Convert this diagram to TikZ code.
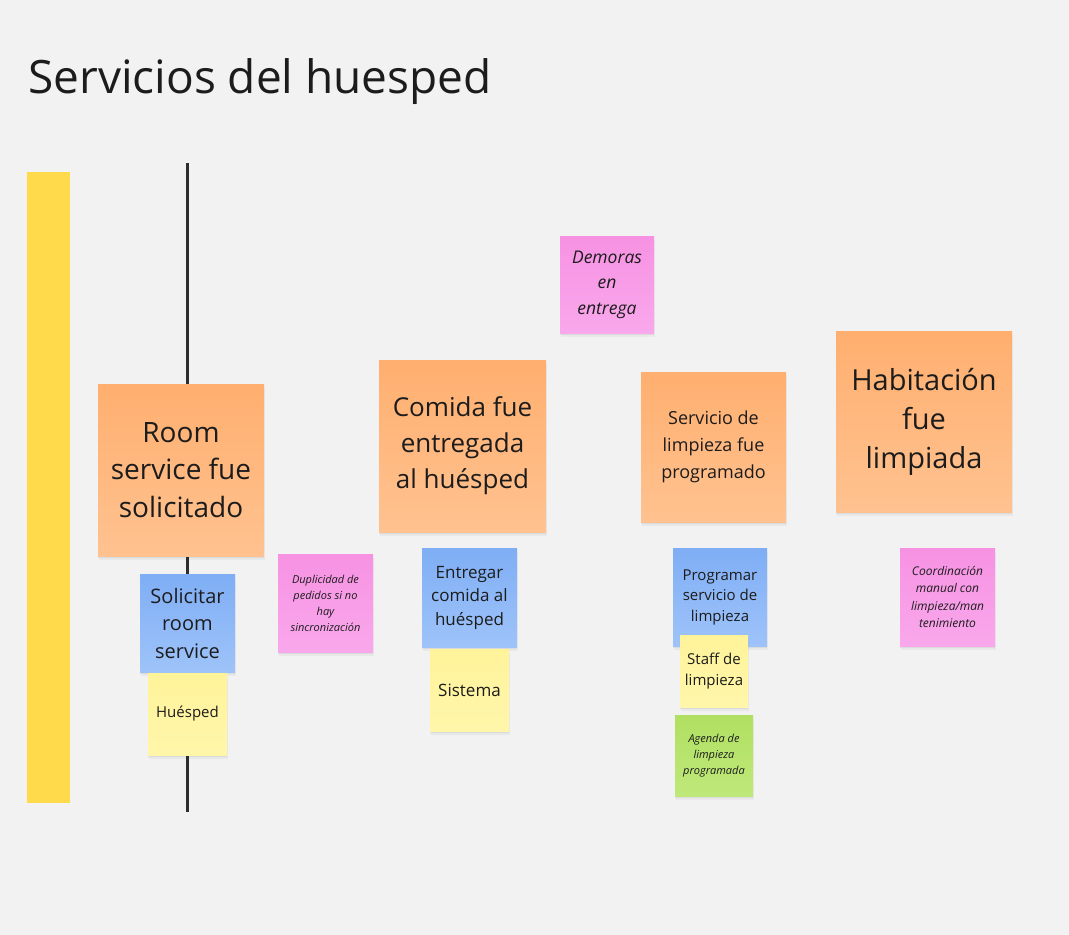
\documentclass[tikz,border=0pt]{standalone}
\usepackage{fontspec}
\setmainfont{Open Sans}
\usetikzlibrary{shadows}
\definecolor{bg}{HTML}{F2F2F2}
\definecolor{ink}{HTML}{1C1C1C}
\definecolor{bar}{HTML}{FFDA4A}
\definecolor{orT}{HTML}{FFAF6F}
\definecolor{orB}{HTML}{FFC290}
\definecolor{blT}{HTML}{7FAEF5}
\definecolor{blB}{HTML}{9EC3F9}
\definecolor{yeT}{HTML}{FFF39A}
\definecolor{yeB}{HTML}{FFF6AA}
\definecolor{piT}{HTML}{F792E3}
\definecolor{piB}{HTML}{F9A8EC}
\definecolor{grT}{HTML}{B0E062}
\definecolor{grB}{HTML}{BFE87A}
\definecolor{lineC}{HTML}{2E2E2E}
\newcommand\fs[2]{\fontsize{#1}{#2}\selectfont}
\tikzset{
  sticky/.style={draw=none, inner sep=0pt, align=center, text=ink,
    drop shadow={shadow xshift=0.5pt, shadow yshift=-4pt, fill=black, opacity=0.04},
    drop shadow={shadow xshift=0pt, shadow yshift=-2pt, fill=black, opacity=0.06}},
  evt/.style={sticky, top color=orT, bottom color=orB},
  cmd/.style={sticky, top color=blT, bottom color=blB},
  actor/.style={sticky, top color=yeT, bottom color=yeB},
  hot/.style={sticky, top color=piT, bottom color=piB},
  readm/.style={sticky, top color=grT, bottom color=grB},
  box/.style n args={2}{minimum width=#1pt, minimum height=#2pt}
}
\begin{document}
\begin{tikzpicture}[x=1pt,y=-1pt]
\fill[bg] (0,0) rectangle (1069,935);
\useasboundingbox (0,0) rectangle (1069,935);

\node[anchor=base west, text=ink, font=\fs{46}{56}, inner sep=0pt] (title) at (28,93) {Servicios del huesped};

\fill[bar] (27,172) rectangle (70,803);

\coordinate (ltop) at (187.5,163);
\coordinate (lbot) at (187.5,812);
\draw[lineC, line width=3pt] (ltop) -- (lbot);

% events
\node[evt, box={166}{172}, font=\fs{28}{37.5}] (e1) at (181,470) {Room\\service fue\\solicitado};
\node[evt, box={167}{172}, font=\fs{26}{36}] (e2) at (462.5,446) {Comida fue\\entregada\\al huésped};
\node[evt, box={145}{150}, font=\fs{18}{27}] (e3) at (713.5,447) {Servicio de\\limpieza fue\\programado};
\node[evt, box={176}{181}, font=\fs{29}{39}] (e4) at (924,421.5) {Habitación\\fue\\limpiada};

% hot spots
\node[hot, box={94}{97}, font=\fs{17.5}{25.5}\itshape] (h1) at (607,284.5) {Demoras\\en\\entrega};
\node[hot, box={95}{98}, font=\fs{11}{16}\itshape] (h2) at (325.5,603) {Duplicidad de\\pedidos si no\\hay\\sincronización};
\node[hot, box={95}{98}, font=\fs{12}{17.5}\itshape] (h3) at (947.5,597) {Coordinación\\manual con\\limpieza/man\\tenimiento};

% commands
\node[cmd, box={95}{98}, font=\fs{20}{27.5}] (c1) at (187.5,623) {Solicitar\\room\\service};
\node[cmd, box={95}{99}, font=\fs{17}{23.5}] (c2) at (469.5,597.5) {Entregar\\comida al\\huésped};
\node[cmd, box={94}{98}, font=\fs{15}{20.5}] (c3) at (720,597) {Programar\\servicio de\\limpieza};

% actors
\node[actor, box={79}{82}, font=\fs{15}{20}] (a1) at (187.5,714) {Huésped};
\node[actor, box={79}{82}, font=\fs{17}{23}] (a2) at (469.5,690) {Sistema};
\node[actor, box={68}{72}, font=\fs{15}{21}] (a3) at (714,671) {Staff de\\limpieza};

% read model
\node[readm, box={78}{81}, font=\fs{11}{16}\itshape] (r1) at (714,755.5) {Agenda de\\limpieza\\programada};
\end{tikzpicture}
\end{document}
